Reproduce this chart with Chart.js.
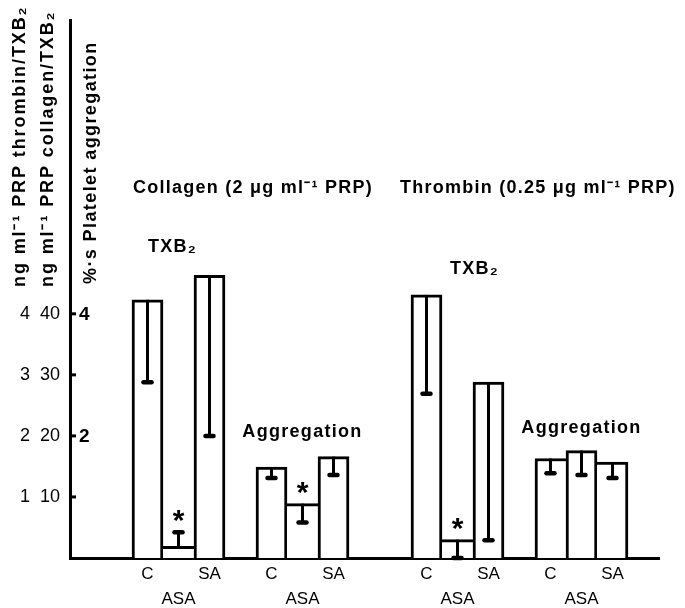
<!DOCTYPE html>
<html>
<head>
<meta charset="utf-8">
<script src="https://cdn.jsdelivr.net/npm/chart.js@4.4.1/dist/chart.umd.min.js"></script>
<style>
html,body{margin:0;padding:0;background:#fff;}
#wrap{width:685px;height:608px;}
</style>
</head>
<body>
<div id="wrap"><canvas id="c" width="685" height="608"></canvas></div>
<script>
// ---------- data ----------
const categories = ['C', 'ASA', 'SA'];
const collagenTXB = [42.3, 1.9, 46.3];        // ng ml-1 PRP (collagen scale, 10-40)
const collagenTXBErr = [28.8, 4.2, 20.0];
const collagenTXBSig = [false, true, false];
const collagenAgg = [1.49, 0.89, 1.66];       // %·s platelet aggregation
const collagenAggErr = [1.31, 0.58, 1.36];
const collagenAggSig = [false, true, false];
const thrombinTXB = [4.31, 0.30, 2.88];       // ng ml-1 PRP (thrombin scale, 1-4)
const thrombinTXBErr = [2.69, 0.0, 0.29];
const thrombinTXBSig = [false, true, false];
const thrombinAgg = [1.63, 1.76, 1.57];
const thrombinAggErr = [1.39, 1.36, 1.31];
const thrombinAggSig = [false, false, false];

const collagenTicks = [10, 20, 30, 40];
const thrombinTicks = [1, 2, 3, 4];
const aggTicks = [2, 4];

const headers = ['Collagen (2 \u03bcg ml\u207b\u00b9 PRP)', 'Thrombin (0.25 \u03bcg ml\u207b\u00b9 PRP)'];
const groupNames = ['TXB\u2082', 'Aggregation', 'TXB\u2082', 'Aggregation'];
const axisTitles = ['ng ml\u207b\u00b9 PRP thrombin/TXB\u2082', 'ng ml\u207b\u00b9 PRP collagen/TXB\u2082', '%\u00b7s Platelet aggregation'];

// ---------- layout / build ----------
const FONT = '"Liberation Sans", Arial, Helvetica, sans-serif';
const groups = [
  {values: collagenTXB, err: collagenTXBErr, sig: collagenTXBSig, axis: 'yCol', name: groupNames[0], dx: -6, dy: 23, header: 0},
  {values: collagenAgg, err: collagenAggErr, sig: collagenAggSig, axis: 'yAgg', name: groupNames[1], dx: 0, dy: 20},
  {values: thrombinTXB, err: thrombinTXBErr, sig: thrombinTXBSig, axis: 'yThr', name: groupNames[2], dx: 17, dy: 21, header: 1},
  {values: thrombinAgg, err: thrombinAggErr, sig: thrombinAggSig, axis: 'yAgg', name: groupNames[3], dx: 0, dy: 18}
];
const gapsBefore = [2, 1, 2, 1];
const gapAfter = 1;

const labels = [];
groups.forEach((g, gi) => {
  for (let k = 0; k < gapsBefore[gi]; k++) labels.push('');
  g.start = labels.length;
  categories.forEach((c, i) => labels.push(i === 1 ? ['', c] : c));
});
for (let k = 0; k < gapAfter; k++) labels.push('');

const datasets = groups.map(g => {
  const data = labels.map(() => null);
  g.values.forEach((v, i) => { data[g.start + i] = v; });
  return {
    data,
    yAxisID: g.axis,
    backgroundColor: '#ffffff',
    borderColor: '#000000',
    borderSkipped: false,
    borderWidth: ctx => {
      const i = ctx.dataIndex - g.start, v = g.values;
      const left = (i <= 0 || v[i - 1] < v[i]) ? 3 : 0;
      const right = (i >= v.length - 1 || v[i + 1] <= v[i]) ? 3 : 0;
      return {top: 3, right, bottom: 0, left};
    },
    categoryPercentage: 1.0,
    barPercentage: 1.0,
    grouped: false
  };
});

function centeredText(ctx, text, cx, cy) {
  const m = ctx.measureText(text);
  ctx.textBaseline = 'alphabetic';
  ctx.fillText(text, cx, cy + (m.actualBoundingBoxAscent - m.actualBoundingBoxDescent) / 2);
}

const annotate = {
  id: 'annotate',
  afterDatasetsDraw(chart) {
    const ctx = chart.ctx;
    ctx.save();
    ctx.strokeStyle = '#000';
    ctx.fillStyle = '#000';
    groups.forEach((g, gi) => {
      const meta = chart.getDatasetMeta(gi);
      const ys = chart.scales[g.axis];
      let minTop = Infinity;
      g.values.forEach((v, i) => {
        const el = meta.data[g.start + i];
        const x = el.x, yTop = el.y;
        const yErr = ys.getPixelForValue(g.err[i]);
        minTop = Math.min(minTop, yTop);
        // error bar
        ctx.lineCap = 'butt';
        ctx.lineWidth = 3;
        ctx.beginPath(); ctx.moveTo(x, yTop); ctx.lineTo(x, yErr); ctx.stroke();
        ctx.lineCap = 'round';
        ctx.lineWidth = 4.5;
        ctx.beginPath(); ctx.moveTo(x - 4, yErr); ctx.lineTo(x + 4, yErr); ctx.stroke();
        // significance star
        if (g.sig[i]) {
          ctx.font = 'bold 30px ' + FONT;
          ctx.textAlign = 'center';
          centeredText(ctx, '*', x, Math.min(yTop, yErr) - 16);
        }
      });
      // group label
      const mid = meta.data[g.start + 1];
      ctx.font = 'bold 18px ' + FONT;
      ctx.letterSpacing = '1.3px';
      ctx.textAlign = 'center';
      ctx.textBaseline = 'alphabetic';
      ctx.fillText(g.name, mid.x + g.dx, minTop - g.dy);
      ctx.letterSpacing = '0px';
    });
    ctx.restore();
  },
  afterDraw(chart) {
    const ctx = chart.ctx;
    const area = chart.chartArea;
    const yCol = chart.scales.yCol, yAgg = chart.scales.yAgg, x = chart.scales.x;
    ctx.save();
    ctx.strokeStyle = '#000';
    ctx.fillStyle = '#000';
    // inner tick marks
    ctx.lineWidth = 3;
    ctx.lineCap = 'butt';
    collagenTicks.forEach(v => {
      const y = yCol.getPixelForValue(v);
      ctx.beginPath(); ctx.moveTo(area.left, y); ctx.lineTo(area.left + 6, y); ctx.stroke();
    });
    // aggregation tick labels (right of axis)
    ctx.font = 'bold 19px ' + FONT;
    ctx.textAlign = 'left';
    aggTicks.forEach(v => {
      const y = yAgg.getPixelForValue(v);
      centeredText(ctx, String(v), area.left + 9, y);
    });
    // headers
    ctx.font = 'bold 18px ' + FONT;
    ctx.letterSpacing = '1.25px';
    ctx.textAlign = 'left';
    ctx.textBaseline = 'alphabetic';
    const slotW = (area.right - area.left) / labels.length;
    groups.forEach(g => {
      if (g.header === undefined) return;
      const left = x.getPixelForValue(g.start) - slotW / 2;
      const dx = g.header === 0 ? 1 : -11;
      ctx.fillText(headers[g.header], left + dx, area.top + 172);
    });
    // rotated axis titles
    const titlePos = [[25, 287], [53, 287], [96, 284]];
    const spacing = ['1.9px', '1.9px', '1.4px'];
    axisTitles.forEach((t, i) => {
      ctx.save();
      ctx.letterSpacing = spacing[i];
      ctx.translate(titlePos[i][0], titlePos[i][1]);
      ctx.rotate(-Math.PI / 2);
      ctx.textAlign = 'left';
      ctx.textBaseline = 'alphabetic';
      ctx.fillText(t, 0, 0);
      ctx.restore();
    });
    ctx.restore();
  }
};

new Chart(document.getElementById('c'), {
  type: 'bar',
  data: {labels, datasets},
  options: {
    responsive: false,
    animation: false,
    devicePixelRatio: 1,
    layout: {padding: {left: 0, top: 15, right: 26, bottom: 0}},
    plugins: {legend: {display: false}, tooltip: {enabled: false}},
    scales: {
      x: {
        type: 'category',
        grid: {display: false, drawTicks: false},
        border: {display: true, color: '#000', width: 3},
        ticks: {
          autoSkip: false, maxRotation: 0, minRotation: 0, padding: 4,
          color: '#000', font: {family: FONT, size: 17, lineHeight: 1.45}
        },
        afterFit: s => { s.height = 50; }
      },
      yCol: {
        position: 'left',
        min: 0, max: 88,
        grid: {display: false, drawTicks: false},
        border: {display: true, color: '#000', width: 3},
        afterBuildTicks: s => { s.ticks = collagenTicks.map(v => ({value: v})); },
        ticks: {
          padding: 10, color: '#000',
          font: {family: FONT, size: 18},
          callback: (v, i) => thrombinTicks[i] + '  ' + collagenTicks[i]
        },
        afterFit: s => { s.width = 70; }
      },
      yThr: {display: false, min: 0, max: 8.8},
      yAgg: {display: false, min: 0, max: 8.8}
    }
  },
  plugins: [annotate]
});
</script>
</body>
</html>
